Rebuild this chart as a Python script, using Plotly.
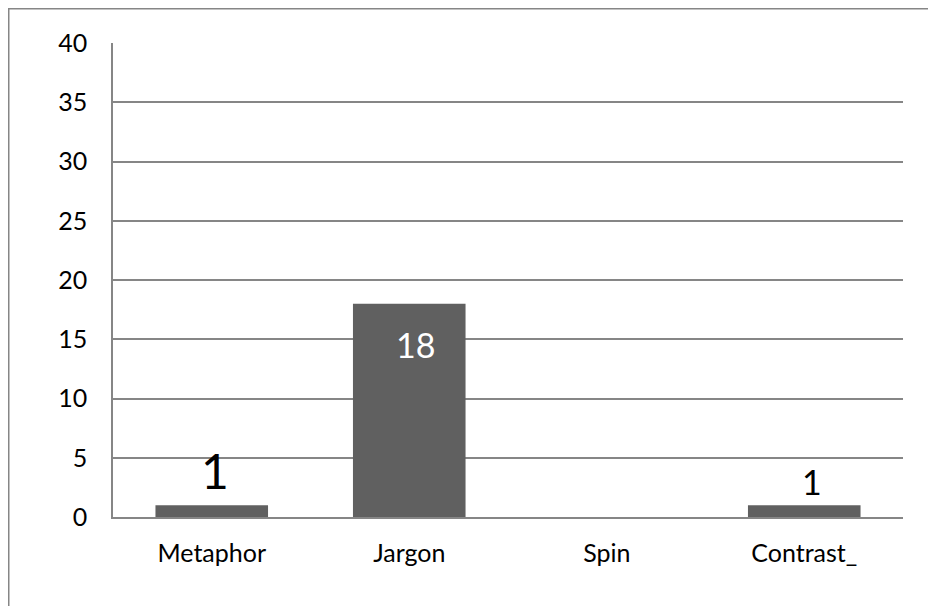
import plotly.graph_objects as go

# Données
categories = ["Metaphor", "Jargon", "Spin", "Contrast_"]
counts = [1, 18, 0, 1]
y_ticks = [0, 5, 10, 15, 20, 25, 30, 35, 40]

FONT = "Lato"
GRID = "#868686"
BAR = "#606060"

# Zone de tracé (px dans la figure)
L, R, T, B = 105, 41, 35, 97
W, H = 936, 606
PW, PH = W - L - R, H - T - B

fig = go.Figure()

fig.add_trace(go.Bar(
    x=categories,
    y=counts,
    marker=dict(color=BAR, line=dict(width=0)),
    width=0.57,
    hoverinfo="skip",
))

# Étiquettes de données (tailles et positions comme dans l'original)
labels = [
    dict(x="Metaphor", y=counts[0], text="1", size=48, color="black", xshift=3, yshift=35),
    dict(x="Jargon", y=counts[1], text="18", size=34, color="white", xshift=6, yshift=-41),
    dict(x="Contrast_", y=counts[3], text="1", size=34, color="black", xshift=8, yshift=24),
]
for lab in labels:
    fig.add_annotation(
        x=lab["x"], y=lab["y"], text=lab["text"], showarrow=False,
        yanchor="middle", xshift=lab["xshift"], yshift=lab["yshift"],
        font=dict(family=FONT, size=lab["size"], color=lab["color"]),
    )

# Bordure du graphique (coupée à droite et en bas)
fig.add_shape(
    type="rect", xref="paper", yref="paper",
    x0=(0.75 - L) / PW, x1=(W + 20 - L) / PW,
    y0=(T + PH - (H + 20)) / PH, y1=(T + PH - 0.75) / PH,
    line=dict(color=GRID, width=1.5), layer="below",
)

fig.update_layout(
    width=W, height=H, autosize=False,
    margin=dict(l=L, r=R, t=T, b=B),
    paper_bgcolor="white", plot_bgcolor="white",
    showlegend=False,
    font=dict(family=FONT, size=25, color="black"),
)

fig.update_xaxes(
    showgrid=False, showline=True, linecolor=GRID, linewidth=1.5,
    ticks="", ticklabelstandoff=13,
    tickfont=dict(family=FONT, size=25, color="black"),
)
fig.update_yaxes(
    range=[0, 40], tickvals=y_ticks,
    showgrid=True, gridcolor=GRID, gridwidth=1.5,
    showline=True, linecolor=GRID, linewidth=1.5,
    zeroline=False, ticks="", ticklabelstandoff=19,
    tickfont=dict(family=FONT, size=25, color="black"),
)

fig.write_html("out.html")
